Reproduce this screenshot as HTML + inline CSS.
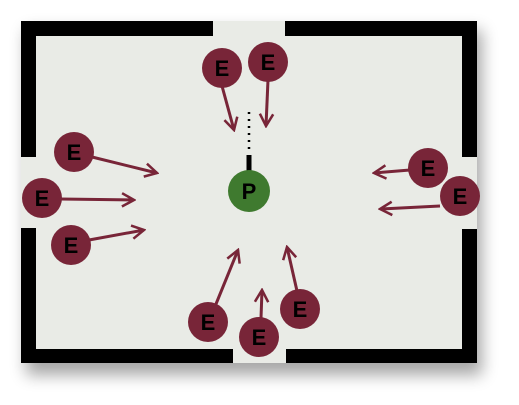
<!DOCTYPE html>
<html><head><meta charset="utf-8"><style>
body{margin:0;background:#fff;width:519px;height:405px;overflow:hidden}
svg{display:block}
text{font-family:"Liberation Sans",sans-serif;font-weight:bold}
</style></head><body>
<svg width="519" height="405">
<defs>
<filter id="sh" x="-10%" y="-10%" width="130%" height="130%"><feGaussianBlur stdDeviation="8"/></filter>
<marker id="ah" viewBox="0 0 12 12" refX="10.5" refY="6" markerWidth="16" markerHeight="16" orient="auto" markerUnits="userSpaceOnUse">
<path d="M1.5,1 L10.5,6 L1.5,11" fill="none" stroke="#782538" stroke-width="1.9"/></marker>
</defs>
<rect x="26" y="30" width="456" height="345" fill="#000" opacity="0.35" filter="url(#sh)"/>
<rect x="21" y="21" width="456" height="342" fill="#e9ebe6"/>
<g fill="#000">
<rect x="21" y="21" width="192" height="15"/>
<rect x="285" y="21" width="192" height="15"/>
<rect x="21" y="21" width="15" height="136"/>
<rect x="21" y="228" width="15" height="135"/>
<rect x="462" y="21" width="15" height="136"/>
<rect x="462" y="229" width="15" height="134"/>
<rect x="21" y="349" width="212" height="14"/>
<rect x="286" y="349" width="191" height="14"/>
</g>
<g stroke="#782538" stroke-width="3" marker-end="url(#ah)">
<line x1="222" y1="86" x2="234" y2="130"/>
<line x1="268" y1="80" x2="266" y2="126"/>
<line x1="92" y1="157" x2="157" y2="173"/>
<line x1="60" y1="199" x2="134" y2="200"/>
<line x1="89" y1="240" x2="144" y2="230"/>
<line x1="410" y1="170" x2="374" y2="173"/>
<line x1="440" y1="206" x2="380" y2="209"/>
<line x1="216" y1="304" x2="238" y2="250"/>
<line x1="261" y1="318" x2="262" y2="290"/>
<line x1="297" y1="291" x2="287" y2="247"/>
</g>
<line x1="249" y1="112" x2="249" y2="152" stroke="#000" stroke-width="2.5" stroke-dasharray="2,5"/>
<line x1="249" y1="155" x2="249" y2="173" stroke="#000" stroke-width="5"/>
<g>
<circle cx="249" cy="191" r="21" fill="#3f7a2f"/>
<text x="249" y="199" font-size="22" text-anchor="middle" fill="#000">P</text>
</g>
<g fill="#782538">
<g><circle cx="222" cy="68" r="20"/><text x="222" y="76" font-size="22" text-anchor="middle" fill="#000">E</text></g>
<g><circle cx="268" cy="62" r="20"/><text x="268" y="70" font-size="22" text-anchor="middle" fill="#000">E</text></g>
<g><circle cx="74" cy="152" r="20"/><text x="74" y="160" font-size="22" text-anchor="middle" fill="#000">E</text></g>
<g><circle cx="42" cy="198" r="20"/><text x="42" y="206" font-size="22" text-anchor="middle" fill="#000">E</text></g>
<g><circle cx="71" cy="245" r="20"/><text x="71" y="253" font-size="22" text-anchor="middle" fill="#000">E</text></g>
<g><circle cx="428" cy="168" r="20"/><text x="428" y="176" font-size="22" text-anchor="middle" fill="#000">E</text></g>
<g><circle cx="460" cy="196" r="20"/><text x="460" y="204" font-size="22" text-anchor="middle" fill="#000">E</text></g>
<g><circle cx="208" cy="322" r="20"/><text x="208" y="330" font-size="22" text-anchor="middle" fill="#000">E</text></g>
<g><circle cx="259" cy="337" r="20"/><text x="259" y="345" font-size="22" text-anchor="middle" fill="#000">E</text></g>
<g><circle cx="300" cy="309" r="20"/><text x="300" y="317" font-size="22" text-anchor="middle" fill="#000">E</text></g>
</g>
</svg>
</body></html>
